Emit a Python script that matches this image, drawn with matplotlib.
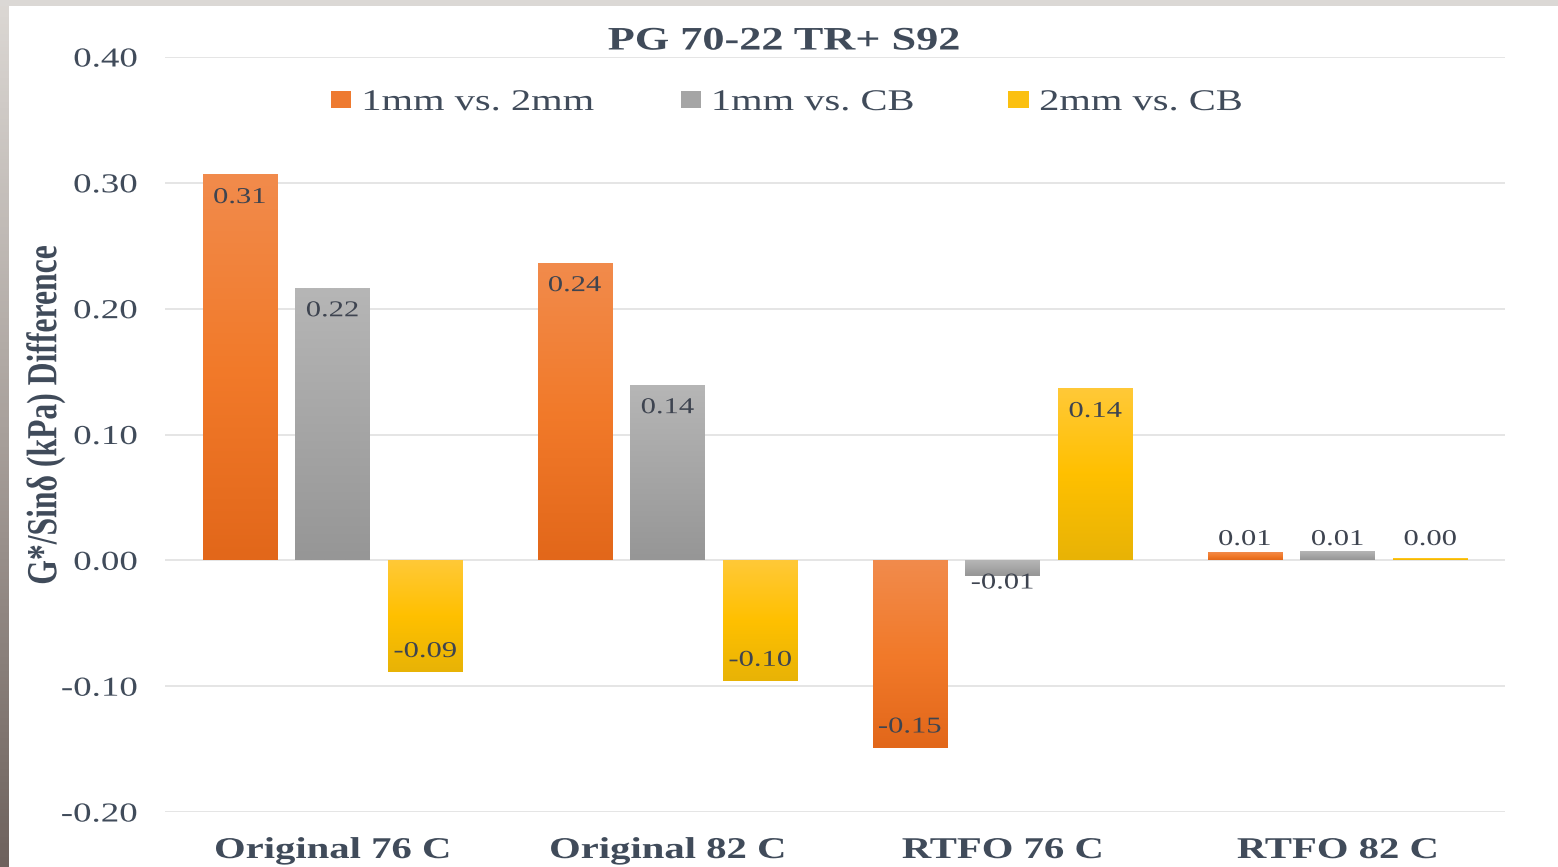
import numpy as np
import matplotlib.pyplot as plt
import matplotlib.patheffects as pe
from matplotlib.colors import LinearSegmentedColormap
from matplotlib.patches import Patch, Rectangle
from matplotlib.transforms import Affine2D

categories = ['Original 76 C', 'Original 82 C', 'RTFO 76 C', 'RTFO 82 C']
series = ['1mm vs. 2mm', '1mm vs. CB', '2mm vs. CB']
diff_1mm_2mm = [0.306, 0.236, -0.149, 0.006]
diff_1mm_cb = [0.216, 0.139, -0.0125, 0.0066]
diff_2mm_cb = [-0.089, -0.096, 0.136, 0.001]
yticks = [-0.20, -0.10, 0.00, 0.10, 0.20, 0.30, 0.40]

# gradient stops (top, middle, bottom) for each series
shades = [
    ['#F18B4C', '#F27A2A', '#E2671A'],
    ['#B6B6B6', '#A6A6A6', '#969696'],
    ['#FFC938', '#FFC000', '#E8B306'],
]
legend_colors = ['#EE7A30', '#A5A5A5', '#FBC010']

INK = '#404B5A'
LABEL_INK = '#3E4450'
STRETCH = 1.35


class Widen(pe.AbstractPathEffect):
    """Draw text glyphs scaled in x/y around their own extents."""

    def __init__(self, sx=1.0, sy=1.0, anchor='center'):
        super().__init__()
        self.sx, self.sy, self.anchor = sx, sy, anchor

    def draw_path(self, renderer, gc, tpath, affine, rgbFace=None):
        ext = tpath.get_extents()
        x0 = {'left': ext.x0, 'center': 0.5 * (ext.x0 + ext.x1),
              'right': ext.x1}[self.anchor]
        y0 = 0.5 * (ext.y0 + ext.y1)
        pre = Affine2D().translate(-x0, -y0).scale(self.sx, self.sy).translate(x0, y0)
        renderer.draw_path(gc, tpath, pre + affine, rgbFace)


plt.rcParams['font.family'] = ['Liberation Serif', 'DejaVu Serif']
plt.rcParams['axes.unicode_minus'] = False

fig = plt.figure(figsize=(15.58, 8.67), dpi=100)
ax = fig.add_axes([165 / 1558, 55 / 867, 1340 / 1558, 755 / 867])

x = np.arange(len(categories))
width = 0.221
step = 0.277
grad = np.linspace(0, 1, 256).reshape(-1, 1)

for i, (vals, cols) in enumerate(zip([diff_1mm_2mm, diff_1mm_cb, diff_2mm_cb], shades)):
    cmap = LinearSegmentedColormap.from_list('s%d' % i, cols[::-1])
    bars = ax.bar(x + (i - 1) * step, vals, width, color='none', edgecolor='none', zorder=2)
    for b, v in zip(bars, vals):
        bx, bw = b.get_x(), b.get_width()
        lo, hi = min(0, v), max(0, v)
        ax.imshow(grad, cmap=cmap, extent=[bx, bx + bw, lo, hi], origin='lower',
                  aspect='auto', zorder=2, interpolation='bilinear')
        cx = bx + bw / 2
        # big bars: label inside the bar end; tiny bars: label just outside
        if abs(v) >= 0.05:
            anchor, off = v, (-16 if v > 0 else 15)
        elif v >= 0:
            anchor, off = 0, 15
        else:
            anchor, off = v, -5
        t = ax.annotate(f'{v:.2f}', (cx, anchor), xytext=(0, off), textcoords='offset points',
                        ha='center', va='center', fontsize=16.3, color=LABEL_INK, zorder=4)
        t.set_path_effects([Widen(STRETCH)])

ax.set_xlim(-0.5, 3.5)
ax.set_ylim(-0.2, 0.4)
ax.set_yticks(yticks)
ax.set_yticklabels([f'{t:.2f}' for t in yticks], fontsize=19.7, color=INK)
ax.set_xticks(x)
ax.set_xticklabels(categories, fontsize=21.7, fontweight='bold', color=INK)
ax.tick_params(axis='both', length=0)
ax.tick_params(axis='y', pad=20)
ax.tick_params(axis='x', pad=18)
for lab in ax.get_yticklabels():
    lab.set_path_effects([Widen(STRETCH, anchor='right')])
for lab in ax.get_xticklabels():
    lab.set_path_effects([Widen(STRETCH)])

ax.yaxis.grid(True, color='#E3E3E3', lw=1.3)
ax.set_axisbelow(True)
for s in ax.spines.values():
    s.set_visible(False)

handles = [Patch(facecolor=c, edgecolor='none') for c in legend_colors]
leg = ax.legend(handles, series, loc='center left',
                bbox_to_anchor=(331 / 1558, (867 - 103) / 867), bbox_transform=fig.transFigure,
                ncol=3, frameon=False, fontsize=21.6, handlelength=0.67, handleheight=0.5,
                handletextpad=0.37, columnspacing=4.85, borderpad=0, borderaxespad=0)
for t in leg.get_texts():
    t.set_color(INK)
    t.set_path_effects([Widen(STRETCH, anchor='left')])

fig.text(784 / 1558, (867 - 41) / 867, 'PG 70-22 TR+ S92', ha='center', va='center',
         fontsize=23.6, fontweight='bold', color=INK, path_effects=[Widen(STRETCH)])
fig.text(46 / 1558, (867 - 415) / 867, 'G*/Sinδ (kPa) Difference', rotation=90,
         ha='center', va='center', fontsize=22.8, fontweight='bold', color=INK,
         path_effects=[Widen(1.0, STRETCH)])

# frame strips on the top and left edges
fig.add_artist(Rectangle((0, 1 - 6 / 867), 1, 6 / 867, transform=fig.transFigure,
                         facecolor='#DBD8D5', edgecolor='none'))
edge = fig.add_axes([0, 0, 9 / 1558, 1])
edge.imshow(grad, cmap=LinearSegmentedColormap.from_list('edge', ['#DCD8D4', '#A8A09B', '#6E625D']),
            aspect='auto', extent=[0, 1, 0, 1], origin='upper')
edge.axis('off')

fig.savefig('out.png', dpi=100, facecolor='white')
